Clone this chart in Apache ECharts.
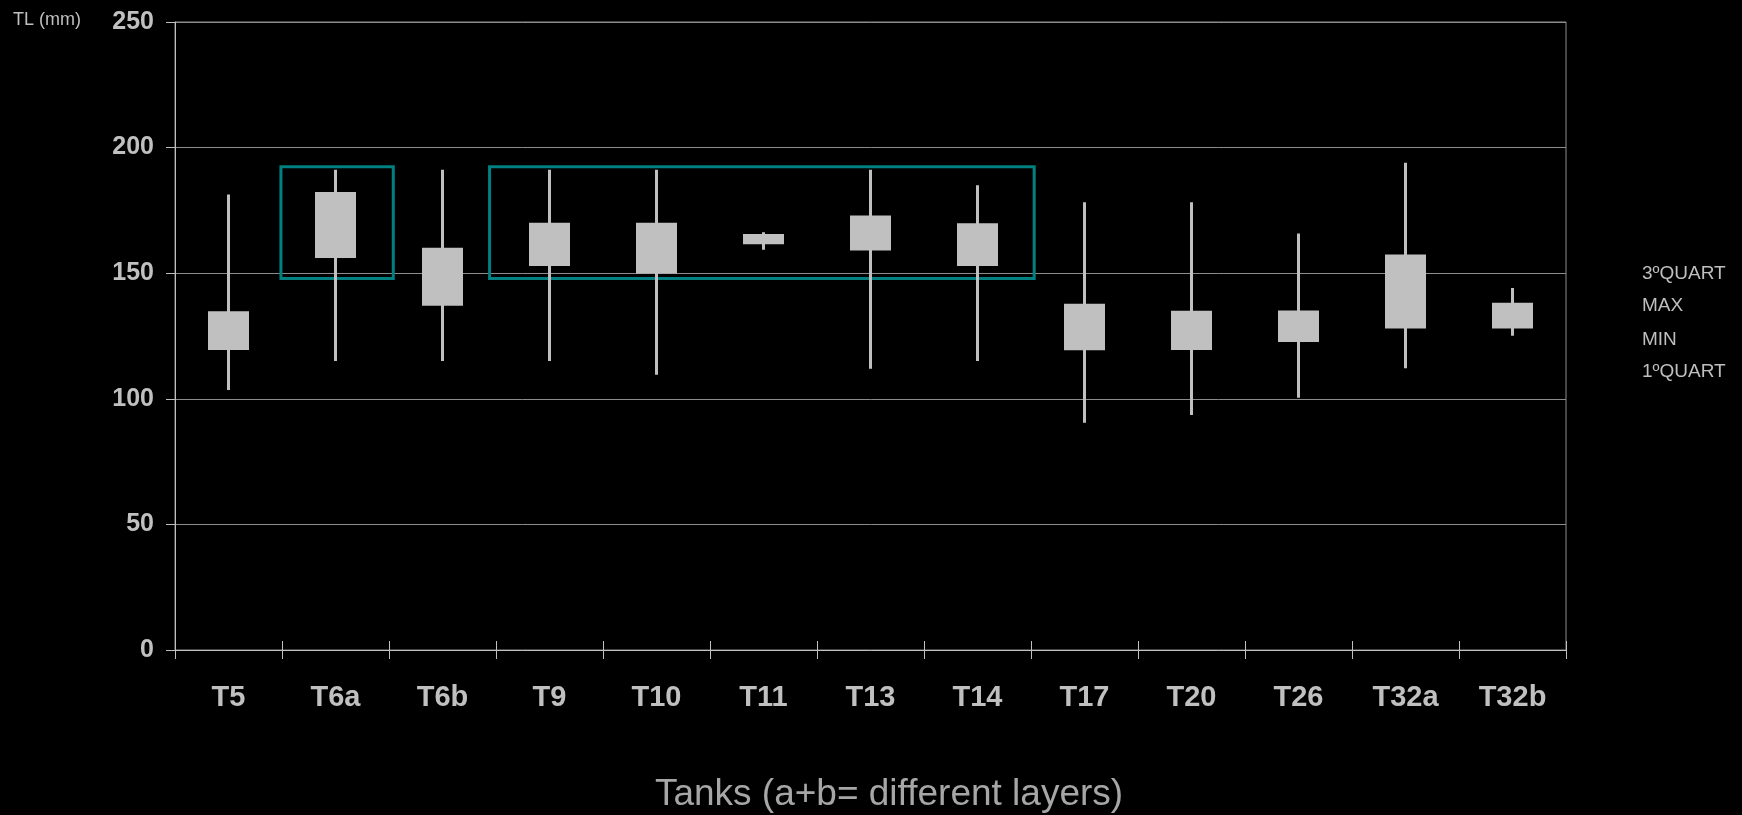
<!DOCTYPE html>
<html>
<head>
<meta charset="utf-8">
<script src="https://cdn.jsdelivr.net/npm/echarts@6/dist/echarts.min.js"></script>
<style>
  html, body { margin: 0; padding: 0; background: #000; }
  #chart { width: 1742px; height: 815px; }
</style>
</head>
<body>
<div id="chart"></div>
<script>
// Tank categories along the x axis
const categories = ['T5', 'T6a', 'T6b', 'T9', 'T10', 'T11', 'T13', 'T14', 'T17', 'T20', 'T26', 'T32a', 'T32b'];

// TL (mm) per tank
const minValues = [103.5, 115, 115, 115, 109.6, 159.3, 112, 115, 90.5, 93.6, 100.4, 112.2, 125.1];
const q1Values = [120, 156.6, 137.6, 153.5, 150.5, 162.1, 159.6, 153.5, 119.9, 120, 123.2, 128.6, 128.6];
const q3Values = [134.3, 181.7, 159.5, 169.5, 169.5, 165, 172.4, 169.3, 137.2, 134.5, 134.6, 156.8, 137.6];
const maxValues = [181.3, 191.2, 191.2, 191.2, 191.2, 166.3, 191.2, 185, 178.2, 178.2, 165.8, 194, 144.1];

// y axis ticks
const yTicks = [0, 50, 100, 150, 200, 250];

// highlighted groups (in category-band units, 0 = left edge of T5)
const groupStart = [0.99, 2.94];
const groupEnd = [2.04, 8.03];
const groupLow = [147.9, 147.9];
const groupHigh = [192.4, 192.4];

const legendLines = ['3ºQUART', 'MAX', 'MIN', '1ºQUART'];

const sans = "'Liberation Sans', Arial, sans-serif";

const chart = echarts.init(document.getElementById('chart'));

const candleData = categories.map((c, i) => [q1Values[i], q3Values[i], minValues[i], maxValues[i]]);

const option = {
  backgroundColor: '#000',
  animation: false,
  grid: {
    left: 175,
    right: 176,
    top: 22,
    bottom: 165,
    show: true,
    borderColor: '#8c8c8c',
    borderWidth: 1,
  },
  xAxis: [
    {
      type: 'category',
      data: categories,
      boundaryGap: true,
      axisLine: { lineStyle: { color: '#bfbfbf', width: 1 } },
      axisTick: { show: true, length: 9, lineStyle: { color: '#bfbfbf' } },
      axisLabel: {
        color: '#c0c0c0',
        fontFamily: sans,
        fontWeight: 'bold',
        fontSize: 29,
        margin: 33,
      },
      splitLine: { show: false },
    },
    {
      // second copy just for the inner half of the ticks
      type: 'category',
      data: categories,
      position: 'bottom',
      boundaryGap: true,
      axisLine: { show: false },
      axisTick: { show: true, inside: true, length: 9, lineStyle: { color: '#bfbfbf' } },
      axisLabel: { show: false },
      splitLine: { show: false },
    },
    {
      type: 'value',
      min: 0,
      max: categories.length,
      show: false,
    },
  ],
  yAxis: {
    type: 'value',
    min: yTicks[0],
    max: yTicks[yTicks.length - 1],
    interval: yTicks[1] - yTicks[0],
    axisLine: { show: true, lineStyle: { color: '#bfbfbf', width: 1 } },
    axisTick: { show: true, length: 9, lineStyle: { color: '#bfbfbf' } },
    axisLabel: {
      color: '#c0c0c0',
      fontFamily: sans,
      fontWeight: 'bold',
      fontSize: 25,
      margin: 21,
    },
    splitLine: { show: true, lineStyle: { color: '#8c8c8c', width: 1 } },
  },
  series: [
    {
      type: 'candlestick',
      data: candleData,
      barWidth: 39,
      itemStyle: {
        color: '#c0c0c0',
        color0: '#c0c0c0',
        borderColor: '#c0c0c0',
        borderColor0: '#c0c0c0',
        borderWidth: 3,
      },
      z: 3,
    },
    {
      type: 'line',
      xAxisIndex: 2,
      data: [],
      markArea: {
        silent: true,
        itemStyle: {
          color: 'rgba(0,0,0,0)',
          borderColor: '#008080',
          borderWidth: 3,
        },
        data: groupStart.map((s, i) => [
          { xAxis: s, yAxis: groupLow[i] },
          { xAxis: groupEnd[i], yAxis: groupHigh[i] },
        ]),
      },
      z: 2,
    },
  ],
  graphic: [
    {
      type: 'text',
      x: 13,
      y: 20,
      style: { text: 'TL (mm)', fill: '#bfbfbf', font: `18px ${sans}`, textVerticalAlign: 'middle' },
    },
    {
      type: 'text',
      x: 889,
      y: 795,
      style: {
        text: 'Tanks (a+b= different layers)',
        fill: '#a6a6a6',
        font: `37px ${sans}`,
        textAlign: 'center',
        textVerticalAlign: 'middle',
      },
    },
    ...legendLines.map((t, i) => ({
      type: 'text',
      x: 1642,
      y: [274, 306, 340, 372][i],
      style: { text: t, fill: '#bfbfbf', font: `19px ${sans}`, textVerticalAlign: 'middle' },
    })),
  ],
};

chart.setOption(option);
</script>
</body>
</html>
